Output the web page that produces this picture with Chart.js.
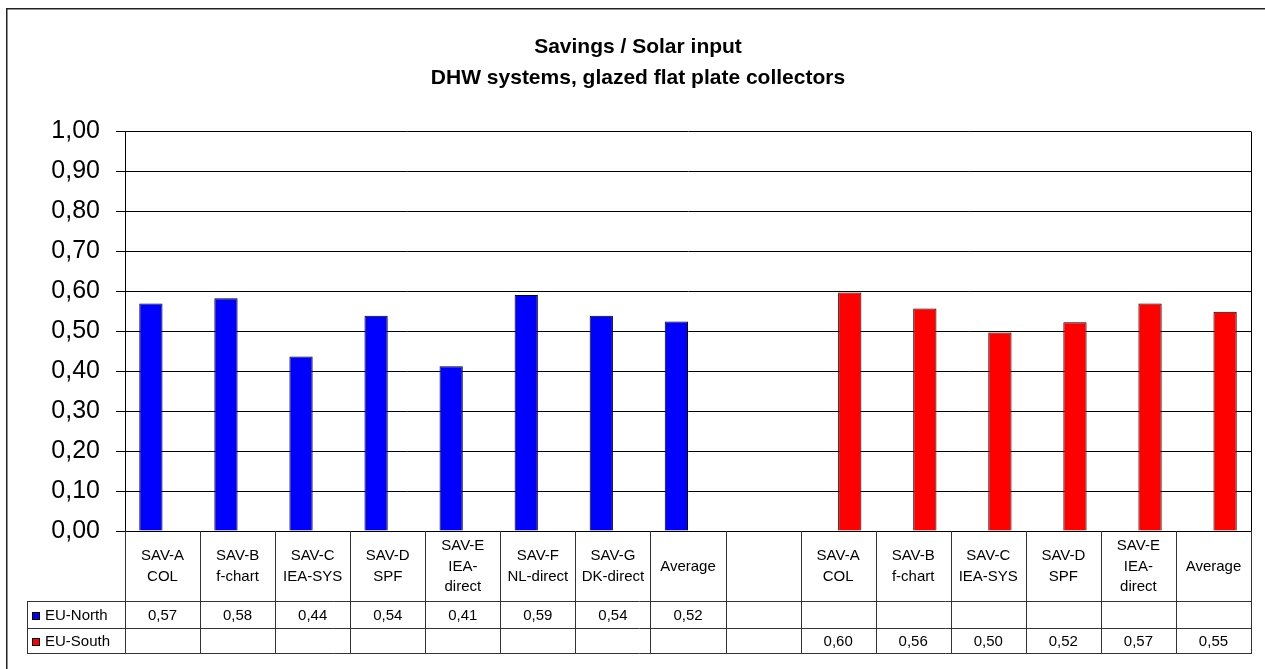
<!DOCTYPE html>
<html><head><meta charset="utf-8">
<script src="https://cdn.jsdelivr.net/npm/chart.js@4.4.0/dist/chart.umd.min.js"></script>
<style>html,body{margin:0;padding:0;background:#fff;overflow:hidden;} canvas{display:block;}</style>
</head><body>
<canvas id="c" width="1265" height="669"></canvas>
<script>
const titleLines = ['Savings / Solar input', 'DHW systems, glazed flat plate collectors'];
const categories = [
  ['SAV-A','COL'], ['SAV-B','f-chart'], ['SAV-C','IEA-SYS'], ['SAV-D','SPF'],
  ['SAV-E','IEA-','direct'], ['SAV-F','NL-direct'], ['SAV-G','DK-direct'], ['Average'],
  [''],
  ['SAV-A','COL'], ['SAV-B','f-chart'], ['SAV-C','IEA-SYS'], ['SAV-D','SPF'],
  ['SAV-E','IEA-','direct'], ['Average']
];
const seriesNames = ['EU-North', 'EU-South'];
const northValues = [0.569, 0.582, 0.436, 0.538, 0.412, 0.590, 0.538, 0.524, null, null, null, null, null, null, null];
const southValues = [null, null, null, null, null, null, null, null, null, 0.596, 0.556, 0.496, 0.522, 0.569, 0.548];
const seriesColors = ['#0000FF', '#FF0000'];
const yMin = 0, yMax = 1, yStep = 0.1;

const FONT = '"Liberation Sans", Arial, Helvetica, sans-serif';
function fmt(v) { return v.toFixed(2).replace('.', ','); }

const frame = {
  id: 'frame',
  beforeDraw(chart) {
    const ctx = chart.ctx;
    ctx.save();
    ctx.fillStyle = '#fff';
    ctx.fillRect(0, 0, chart.width, chart.height);
    ctx.strokeStyle = '#222';
    ctx.lineWidth = 1.5;
    ctx.strokeRect(6.75, 8.75, chart.width + 10, chart.height + 10);
    ctx.fillStyle = '#000';
    ctx.font = 'bold 21px ' + FONT;
    ctx.textAlign = 'center';
    ctx.textBaseline = 'middle';
    ctx.fillText(titleLines[0], 638, 47);
    ctx.fillText(titleLines[1], 638, 78);
    ctx.restore();
  }
};

const dataTable = {
  id: 'dataTable',
  afterDraw(chart) {
    const ctx = chart.ctx, xs = chart.scales.x, a = chart.chartArea;
    const n = categories.length;
    const cw = (a.right - a.left) / n;
    const y0 = Math.round(a.bottom), yH = y0 + 70, yR1 = yH + 27, yR2 = yR1 + 25;
    const legLeft = 27;
    const datasets = chart.data.datasets;
    ctx.save();
    ctx.strokeStyle = '#000';
    ctx.lineWidth = 1;
    // plot area right border
    ctx.beginPath();
    ctx.moveTo(Math.round(a.right) + 0.5, Math.round(a.top) + 0.5);
    ctx.lineTo(Math.round(a.right) + 0.5, y0 + 0.5);
    ctx.stroke();
    // table lines
    ctx.strokeStyle = '#333';
    ctx.beginPath();
    for (const yy of [yH, yR1, yR2]) {
      ctx.moveTo(legLeft, yy + 0.5); ctx.lineTo(Math.round(a.right) + 1, yy + 0.5);
    }
    ctx.moveTo(legLeft + 0.5, yH); ctx.lineTo(legLeft + 0.5, yR2 + 1);
    for (let i = 0; i <= n; i++) {
      const xc = i < n ? xs.getPixelForValue(i) - cw / 2 : xs.getPixelForValue(n - 1) + cw / 2;
      const xx = Math.round(xc) + 0.5;
      ctx.moveTo(xx, y0); ctx.lineTo(xx, yR2 + 1);
    }
    ctx.stroke();
    // header labels
    ctx.fillStyle = '#000';
    ctx.font = '15px ' + FONT;
    ctx.textAlign = 'center';
    ctx.textBaseline = 'middle';
    const lh = 20.5;
    const hc = (y0 + yH) / 2 + 0.5;
    categories.forEach((lines, i) => {
      const cx = xs.getPixelForValue(i);
      const start = hc - (lines.length - 1) * lh / 2;
      lines.forEach((t, j) => ctx.fillText(t, cx, start + j * lh));
    });
    // value rows
    const rows = [[yH, yR1], [yR1, yR2]];
    datasets.forEach((ds, k) => {
      const rc = (rows[k][0] + rows[k][1]) / 2 + 1;
      ds.data.forEach((v, i) => {
        if (v === null || v === undefined) return;
        ctx.fillText(fmt(v), xs.getPixelForValue(i), rc);
      });
      // legend key
      ctx.fillStyle = ds.backgroundColor;
      ctx.fillRect(32, Math.round(rc) - 4, 8, 8);
      ctx.strokeStyle = '#000';
      ctx.strokeRect(32.5, Math.round(rc) - 3.5, 7, 7);
      ctx.fillStyle = '#000';
      ctx.textAlign = 'left';
      ctx.fillText(ds.label, 45, rc);
      ctx.textAlign = 'center';
    });
    ctx.restore();
  }
};

new Chart(document.getElementById('c'), {
  type: 'bar',
  data: {
    labels: categories,
    datasets: [
      { label: seriesNames[0], data: northValues, backgroundColor: seriesColors[0], borderColor: '#000', borderWidth: 1 },
      { label: seriesNames[1], data: southValues, backgroundColor: seriesColors[1], borderColor: '#000', borderWidth: 1 }
    ]
  },
  options: {
    responsive: false,
    animation: false,
    devicePixelRatio: 1,
    layout: { padding: { top: 131, right: 14, bottom: 0, left: 0 } },
    datasets: { bar: { categoryPercentage: 0.62, barPercentage: 1 } },
    plugins: { legend: { display: false }, title: { display: false }, tooltip: { enabled: false } },
    scales: {
      x: {
        grid: { display: false },
        border: { display: true, color: '#000', width: 1 },
        ticks: { display: false },
        afterFit(s) { s.height = 138; }
      },
      y: {
        min: yMin, max: yMax,
        ticks: {
          stepSize: yStep, color: '#000', padding: 16,
          font: { family: FONT, size: 25 },
          callback: v => fmt(v)
        },
        grid: { color: '#000', lineWidth: 1, tickLength: 9, tickColor: '#000' },
        border: { display: true, color: '#000', width: 1 },
        afterFit(s) { s.width = 125; }
      }
    }
  },
  plugins: [frame, dataTable]
});
</script>
</body></html>
